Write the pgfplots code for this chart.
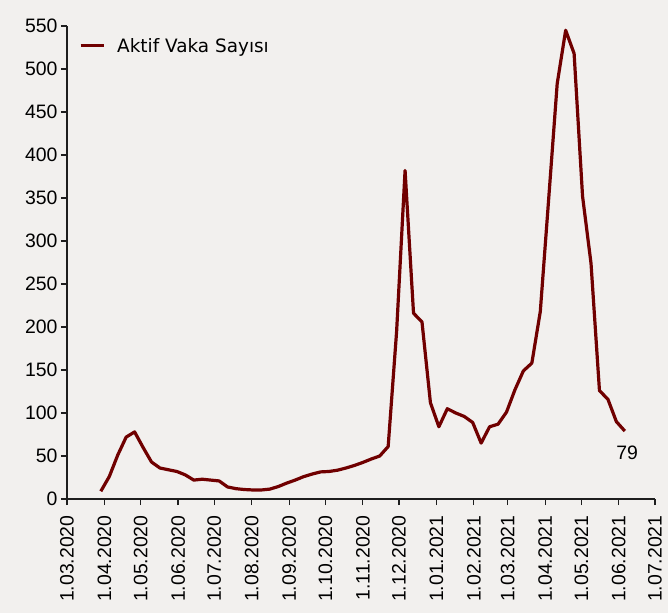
\documentclass[border=0pt]{standalone}
\usepackage{fontspec}
\setmainfont{Liberation Sans}
\newfontfamily\legfont{DejaVu Sans}
\usepackage{pgfplots}
\pgfplotsset{compat=1.18}
\usetikzlibrary{backgrounds}
\definecolor{bgcol}{RGB}{242,240,238}
\definecolor{linecol}{RGB}{112,0,0}
\definecolor{axcol}{RGB}{30,30,30}
\begin{document}
\begin{tikzpicture}
\begin{axis}[
  at={(0,0)}, anchor=south west,
  scale only axis, width=588bp, height=473bp,
  xmin=0, xmax=487, ymin=0, ymax=550,
  axis lines=left, axis line style={-, axcol, line width=1.2bp},
  tick align=outside, major tick length=6bp,
  tick style={axcol, line width=1.2bp},
  ytick={0,50,...,550},
  xtick={0,31,61,92,122,153,184,214,245,275,306,337,365,396,426,457,487},
  xticklabels={1.03.2020,1.04.2020,1.05.2020,1.06.2020,1.07.2020,1.08.2020,1.09.2020,1.10.2020,1.11.2020,1.12.2020,1.01.2021,1.02.2021,1.03.2021,1.04.2021,1.05.2021,1.06.2021,1.07.2021},
  xticklabel style={rotate=90, anchor=east, font=\fontsize{19.5}{20}\selectfont},
  xticklabel shift=7bp,
  yticklabel style={font=\fontsize{19.5}{20}\selectfont},
  /pgf/number format/assume math mode=true,
  axis background/.style={fill=none},
  legend style={draw=none, fill=none, at={(axis description cs:0.02,0.958)}, anchor=west, inner sep=0pt, font=\legfont\fontsize{18.5}{20}\selectfont},
  legend cell align=left,
  legend image code/.code={\draw[#1] (0bp,0bp) -- (23bp,0bp); \path (33bp,0bp);},
  clip=false,
]
\addplot[linecol, line width=3.2bp, line join=round] table {
28 9
35 26
42 51
49 72
56 78
63 60
70 43
77 36
84 34
91 32
98 28
105 22
112 23
119 22
126 21
133 14
140 12
147 11
154 10.5
161 10.5
168 11.5
175 14.5
182 18.5
189 22
196 26
203 29
210 31.5
217 32
224 33.5
231 36
238 39
245 42.5
252 46.5
259 50
266 61
273 195
280 382
287 216
294 206
301 112
308 84
315 105
322 100
329 96
336 89
343 65
350 84
357 87
364 101
371 127
378 149
385 158
392 218
399 350
406 483
413 545
420 518
427 352
434 274
441 126
448 116
455 90
462 79
};
\addlegendentry{Aktif Vaka Sayısı}
\node[font=\fontsize{19.5}{20}\selectfont] at (axis cs:464,54) {79};
\end{axis}
\pgfresetboundingbox
\begin{pgfonlayer}{background}
\fill[bgcol] (-67bp,-114bp) rectangle (601bp,499bp);
\end{pgfonlayer}
\useasboundingbox (-67bp,-114bp) rectangle (601bp,499bp);
\end{tikzpicture}
\end{document}
